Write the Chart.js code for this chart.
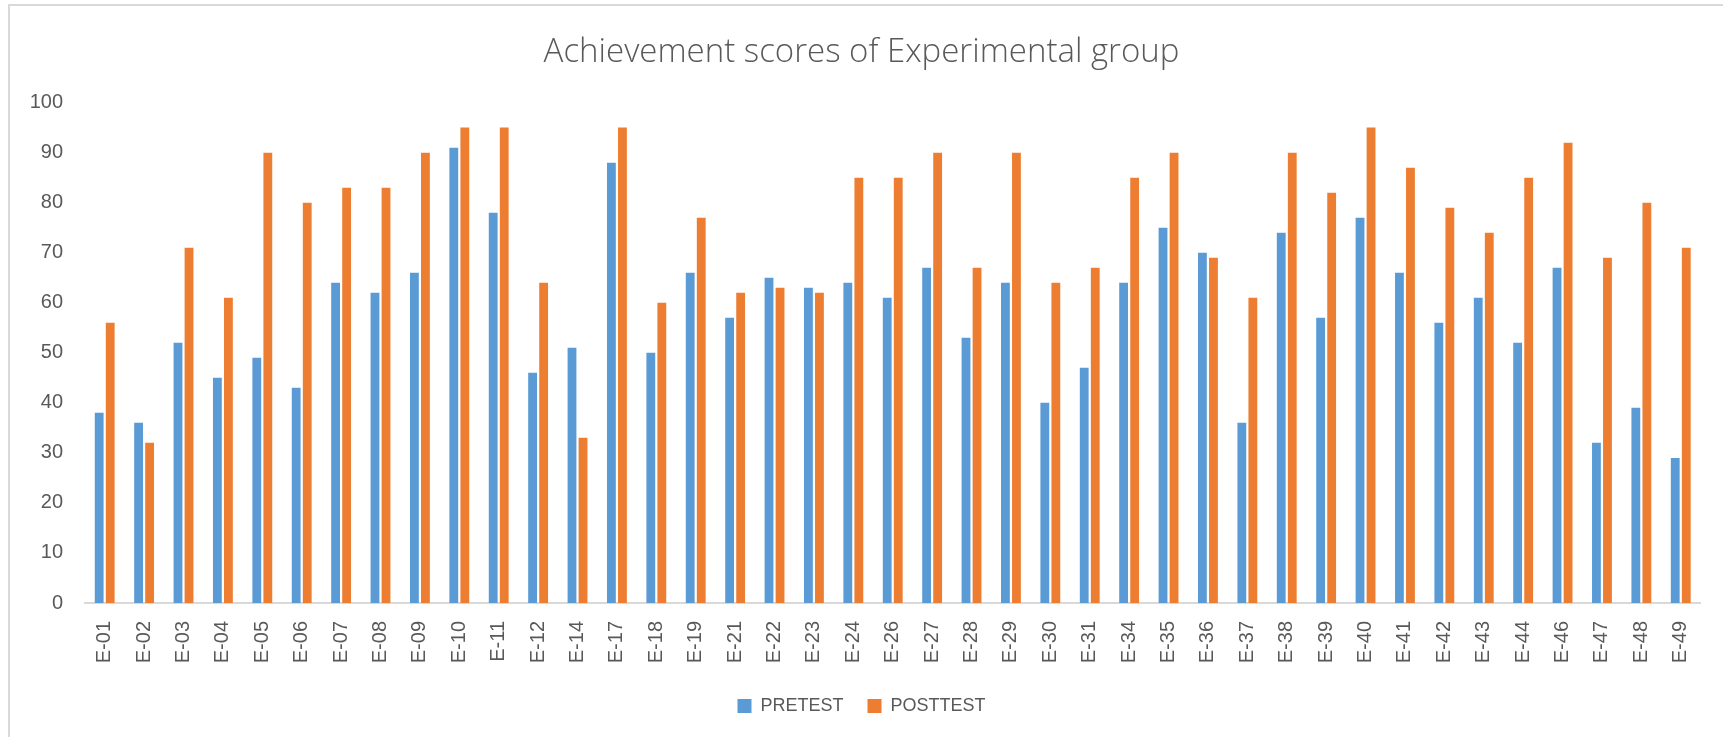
<!DOCTYPE html>
<html>
<head>
<meta charset="utf-8">
<script src="https://cdn.jsdelivr.net/npm/chart.js@4"></script>
<style>
  html, body { margin: 0; padding: 0; background: #fff; }
  #wrap { position: relative; width: 1723px; height: 737px; overflow: hidden; }
  #frame {
    position: absolute; left: 8px; top: 4px; width: 1800px; height: 800px;
    border-top: 2px solid #d9d9d9; border-left: 2px solid #d9d9d9;
    pointer-events: none;
  }
  canvas { position: absolute; left: 0; top: 0; }
</style>
</head>
<body>
<div id="wrap">
  <canvas id="chart" width="1723" height="737"></canvas>
  <div id="frame"></div>
</div>
<script>
// Student codes
const students = [
  "E-01", "E-02", "E-03", "E-04", "E-05", "E-06", "E-07", "E-08", "E-09", "E-10",
  "E-11", "E-12", "E-14", "E-17", "E-18", "E-19", "E-21", "E-22", "E-23", "E-24",
  "E-26", "E-27", "E-28", "E-29", "E-30", "E-31", "E-34", "E-35", "E-36", "E-37",
  "E-38", "E-39", "E-40", "E-41", "E-42", "E-43", "E-44", "E-46", "E-47", "E-48",
  "E-49"
];

// Scores
const pretest = [
  38, 36, 52, 45, 49, 43, 64, 62, 66, 91,
  78, 46, 51, 88, 50, 66, 57, 65, 63, 64,
  61, 67, 53, 64, 40, 47, 64, 75, 70, 36,
  74, 57, 77, 66, 56, 61, 52, 67, 32, 39,
  29
];
const posttest = [
  56, 32, 71, 61, 90, 80, 83, 83, 90, 95,
  95, 64, 33, 95, 60, 77, 62, 63, 62, 85,
  85, 90, 67, 90, 64, 67, 85, 90, 69, 61,
  90, 82, 95, 87, 79, 74, 85, 92, 69, 80,
  71
];

const TEXT = "#595959";
const FONT = "'Liberation Sans', Arial, sans-serif";

const ctx = document.getElementById("chart").getContext("2d");
new Chart(ctx, {
  type: "bar",
  data: {
    labels: students,
    datasets: [
      {
        label: "PRETEST",
        data: pretest,
        backgroundColor: "#5B9BD5",
        categoryPercentage: 0.56,
        barPercentage: 0.8
      },
      {
        label: "POSTTEST",
        data: posttest,
        backgroundColor: "#ED7D31",
        categoryPercentage: 0.56,
        barPercentage: 0.8
      }
    ]
  },
  options: {
    responsive: false,
    animation: false,
    layout: { padding: { left: 20, right: 20, top: 0, bottom: 12 } },
    plugins: {
      title: {
        display: true,
        text: "Achievement scores of Experimental group",
        color: TEXT,
        font: { family: "'Open Sans', sans-serif", size: 33, weight: "300" },
        padding: { top: 33, bottom: 30 }
      },
      legend: {
        position: "bottom",
        labels: {
          color: TEXT,
          font: { family: FONT, size: 18 },
          boxWidth: 14,
          boxHeight: 14,
          padding: 24
        }
      },
      tooltip: { enabled: false }
    },
    scales: {
      x: {
        grid: { display: false, drawTicks: false },
        border: { display: true, color: "#d9d9d9", width: 2 },
        ticks: {
          color: TEXT,
          font: { family: FONT, size: 20 },
          autoSkip: false,
          minRotation: 90,
          maxRotation: 90,
          padding: 18
        },
        afterFit: (scale) => { scale.height = 70; }
      },
      y: {
        min: 0,
        max: 100,
        grid: { display: false, drawTicks: false },
        border: { display: false },
        ticks: {
          stepSize: 10,
          color: TEXT,
          font: { family: FONT, size: 20 },
          padding: 22
        },
        afterFit: (scale) => { scale.width = 65; }
      }
    }
  }
});
</script>
</body>
</html>
